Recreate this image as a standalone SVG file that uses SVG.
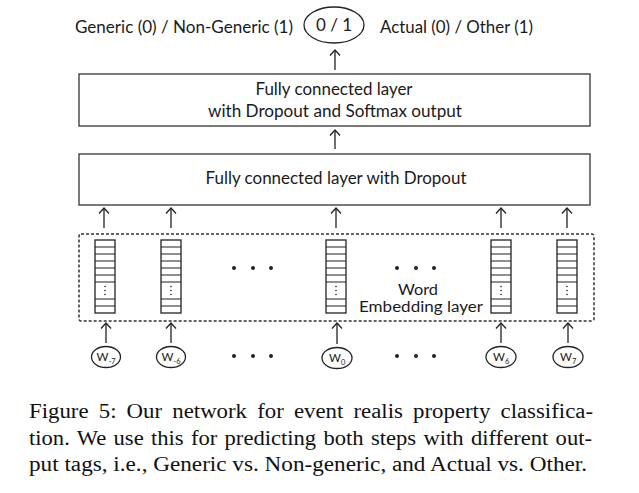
<svg xmlns="http://www.w3.org/2000/svg" width="639" height="493" viewBox="0 0 639 493">
<style>
.lbl{font-family:Lato,"Liberation Sans",sans-serif;font-size:17px;fill:#1a1a1a}
.lbl2{font-family:Lato,"Liberation Sans",sans-serif;font-size:14.5px;fill:#1a1a1a}
.box{fill:#fff;stroke:#333;stroke-width:1.3}
.emb{fill:#fff;stroke:#222;stroke-width:1.3}
.cell{stroke:#222;stroke-width:1.1}
.arr{stroke:#222;stroke-width:1.3;fill:none;marker-end:url(#ah)}
.dot{fill:#222}
.w{font-family:Lato,"Liberation Sans",sans-serif;font-size:11.5px;fill:#1a1a1a}
.sub{font-family:Lato,"Liberation Sans",sans-serif;font-size:7.5px;fill:#1a1a1a}
.cap{font-family:"Liberation Serif","Times New Roman",serif;font-size:20.5px;fill:#111}
</style>
<defs>
<marker id="ah" markerUnits="userSpaceOnUse" markerWidth="12" markerHeight="12" refX="6" refY="6" orient="auto">
<path d="M0.5,1 L6,6 L0.5,11" fill="none" stroke="#222" stroke-width="1.3"/>
</marker>
<g id="col">
<rect class="emb" x="0" y="0" width="20" height="73"/>
<path class="cell" d="M0,7H20M0,14H20M0,21H20M0,28H20M0,35H20M0,42H20M0,59H20M0,66H20"/>
<circle class="dot" cx="10" cy="46.5" r="0.8"/>
<circle class="dot" cx="10" cy="50.5" r="0.8"/>
<circle class="dot" cx="10" cy="54.5" r="0.8"/>
</g>
</defs>
<rect width="639" height="493" fill="#fff"/>

<g id="output">
<text class="lbl" x="75" y="33" textLength="218" lengthAdjust="spacingAndGlyphs">Generic (0) / Non-Generic (1)</text>
<ellipse cx="334" cy="25" rx="30" ry="18" fill="none" stroke="#222" stroke-width="1.3"/>
<text class="lbl" x="334" y="31" text-anchor="middle">0 / 1</text>
<text class="lbl" x="380" y="33" textLength="153" lengthAdjust="spacingAndGlyphs">Actual (0) / Other (1)</text>
</g>

<g id="fc2">
<rect class="box" x="79" y="74" width="511" height="52"/>
<text class="lbl" x="334" y="95" text-anchor="middle" textLength="157" lengthAdjust="spacingAndGlyphs">Fully connected layer</text>
<text class="lbl" x="335" y="117" text-anchor="middle" textLength="254" lengthAdjust="spacingAndGlyphs">with Dropout and Softmax output</text>
</g>

<g id="fc1">
<rect class="box" x="79" y="154" width="511" height="51"/>
<text class="lbl" x="336" y="184" text-anchor="middle" textLength="261" lengthAdjust="spacingAndGlyphs">Fully connected layer with Dropout</text>
</g>

<g id="embedding">
<rect x="79" y="234" width="515" height="87" rx="2" fill="none" stroke="#333" stroke-width="1.5" stroke-dasharray="3,2"/>
<use href="#col" x="95" y="240"/>
<use href="#col" x="161" y="240"/>
<use href="#col" x="326" y="240"/>
<use href="#col" x="491" y="240"/>
<use href="#col" x="557" y="240"/>
<circle class="dot" cx="234" cy="268" r="2"/>
<circle class="dot" cx="253" cy="268" r="2"/>
<circle class="dot" cx="271" cy="268" r="2"/>
<circle class="dot" cx="397" cy="268" r="2"/>
<circle class="dot" cx="416" cy="268" r="2"/>
<circle class="dot" cx="434" cy="268" r="2"/>
<text class="lbl2" x="418" y="294.5" text-anchor="middle" textLength="40" lengthAdjust="spacingAndGlyphs">Word</text>
<text class="lbl2" x="421" y="312" text-anchor="middle" textLength="124" lengthAdjust="spacingAndGlyphs">Embedding layer</text>
</g>

<g id="inputs">
<g id="w-7"><ellipse cx="106" cy="357" rx="14.5" ry="10.5" fill="none" stroke="#222" stroke-width="1.3"/><text class="w" x="96.5" y="361">W<tspan class="sub" dy="3">-7</tspan></text></g>
<g id="w-6"><ellipse cx="171" cy="357" rx="14.5" ry="10.5" fill="none" stroke="#222" stroke-width="1.3"/><text class="w" x="161.5" y="361">W<tspan class="sub" dy="3">-6</tspan></text></g>
<g id="w0"><ellipse cx="337" cy="358" rx="15" ry="10.5" fill="none" stroke="#222" stroke-width="1.3"/><text class="w" x="329" y="362">W<tspan class="sub" dy="3">0</tspan></text></g>
<g id="w6"><ellipse cx="501" cy="357" rx="15" ry="10.5" fill="none" stroke="#222" stroke-width="1.3"/><text class="w" x="493" y="361">W<tspan class="sub" dy="3">6</tspan></text></g>
<g id="w7"><ellipse cx="568" cy="357" rx="15" ry="10.5" fill="none" stroke="#222" stroke-width="1.3"/><text class="w" x="560" y="361">W<tspan class="sub" dy="3">7</tspan></text></g>
<circle class="dot" cx="234" cy="356" r="2"/>
<circle class="dot" cx="253" cy="356" r="2"/>
<circle class="dot" cx="271" cy="356" r="2"/>
<circle class="dot" cx="397" cy="356" r="2"/>
<circle class="dot" cx="416" cy="356" r="2"/>
<circle class="dot" cx="434" cy="356" r="2"/>
</g>

<g id="connectors">
<path class="arr" d="M335,70V50"/>
<path class="arr" d="M335,149V130"/>
<path class="arr" d="M104,228V208"/>
<path class="arr" d="M171,228V208"/>
<path class="arr" d="M336,228V208"/>
<path class="arr" d="M501,228V208"/>
<path class="arr" d="M567,228V208"/>
<path class="arr" d="M106,343V323"/>
<path class="arr" d="M171,343V323"/>
<path class="arr" d="M337,344V323"/>
<path class="arr" d="M501,343V323"/>
<path class="arr" d="M568,343V323"/>
</g>

<g id="caption">
<text class="cap" x="29" y="418" word-spacing="4" textLength="564" lengthAdjust="spacingAndGlyphs">Figure 5: Our network for event realis property classifica-</text>
<text class="cap" x="29" y="445" word-spacing="1.5" textLength="563" lengthAdjust="spacingAndGlyphs">tion. We use this for predicting both steps with different out-</text>
<text class="cap" x="29" y="471" textLength="558" lengthAdjust="spacingAndGlyphs">put tags, i.e., Generic vs. Non-generic, and Actual vs. Other.</text>
</g>
</svg>
